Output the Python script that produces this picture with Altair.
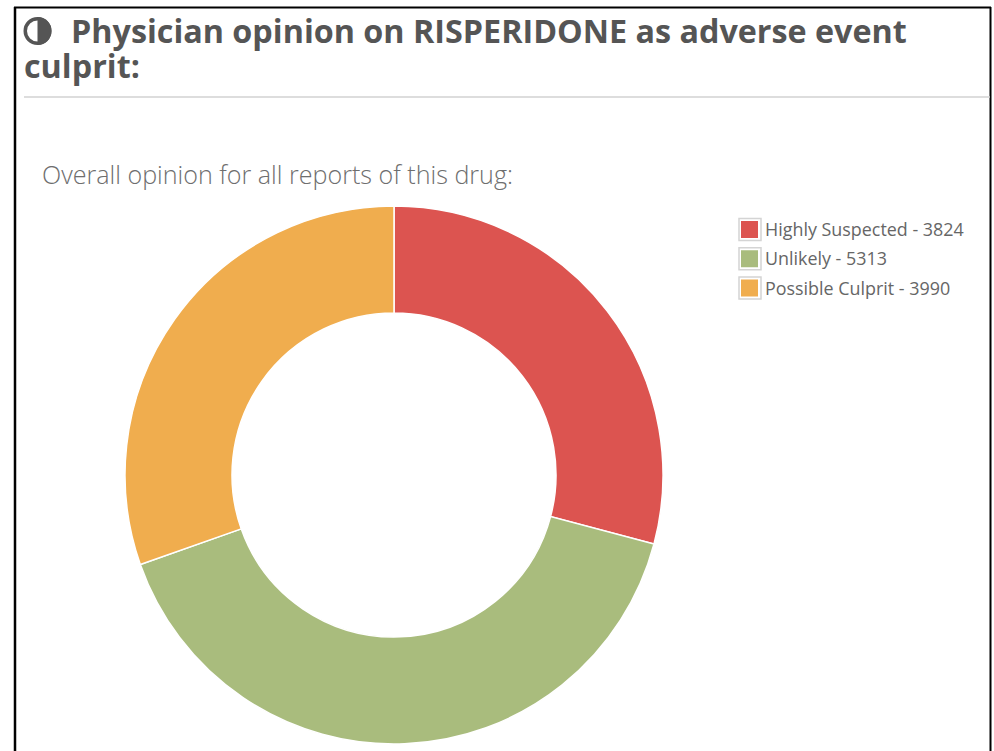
import math

import altair as alt
import pandas as pd

# Physician opinion counts for the drug, in clockwise order from twelve o'clock
categories = ["Highly Suspected", "Unlikely", "Possible Culprit"]
counts = [3824, 5313, 3990]
colors = ["#DC5450", "#A9BC7D", "#F0AD4E"]

title_line_1 = "Physician opinion on RISPERIDONE as adverse event"
title_line_2 = "culprit:"
subtitle = "Overall opinion for all reports of this drug:"

FONT = "Open Sans"
TEXT_DARK = "#555555"
TEXT_SOFT = "#666666"
CX, CY = 394, 475

labels = [f"{c} - {n}" for c, n in zip(categories, counts)]
table = pd.DataFrame({"label": labels, "count": counts, "rank": range(len(counts))})

color_scale = alt.Color(
    "label:N", scale=alt.Scale(domain=labels, range=colors), legend=None
)
# Key rows are placed by a point scale over the labels
row_scale = alt.Y(
    "label:N",
    scale=alt.Scale(type="point", domain=labels, range=[229.5, 288], padding=0),
    axis=None,
)

donut = (
    alt.Chart(table)
    .mark_arc(outerRadius=269, innerRadius=162, stroke="white", strokeWidth=1.5)
    .encode(
        x=alt.value(CX),
        y=alt.value(CY),
        theta=alt.Theta("count:Q", stack=True),
        order=alt.Order("rank:Q"),
        color=color_scale,
    )
)

# Colour key: swatch, thin grey box around it, and label
key_box = (
    alt.Chart(table)
    .mark_square(size=484, filled=False, stroke="#D4D4D4", strokeWidth=1.5, opacity=1)
    .encode(x=alt.value(750), y=row_scale)
)
key_swatch = (
    alt.Chart(table)
    .mark_square(size=289, opacity=1)
    .encode(x=alt.value(749.5), y=row_scale, color=color_scale)
)
key_label = (
    alt.Chart(table)
    .mark_text(
        align="left", baseline="alphabetic", dy=6.7, font=FONT, fontSize=17.9,
        color=TEXT_SOFT,
    )
    .encode(x=alt.value(765), y=row_scale, text="label:N")
)


def text(content, x, y, size, color, weight="normal", font=FONT):
    return alt.Chart().mark_text(
        align="left", baseline="alphabetic", font=font, fontSize=size,
        fontWeight=weight, color=color,
    ).encode(x=alt.value(x), y=alt.value(y), text=alt.value(content))


def hline(x1, x2, y, color, width):
    return alt.Chart().mark_rule(color=color, strokeWidth=width).encode(
        x=alt.value(x1), x2=alt.value(x2), y=alt.value(y)
    )


def vline(x, y1, y2, color, width):
    return alt.Chart().mark_rule(color=color, strokeWidth=width).encode(
        x=alt.value(x), y=alt.value(y1), y2=alt.value(y2)
    )


# Half-filled ring in front of the heading
icon = [
    alt.Chart().mark_arc(outerRadius=14, innerRadius=10.5, theta=0, theta2=2 * math.pi, color=TEXT_DARK)
    .encode(x=alt.value(37.5), y=alt.value(31)),
    alt.Chart().mark_arc(outerRadius=14, innerRadius=0, theta=0, theta2=math.pi, color=TEXT_DARK)
    .encode(x=alt.value(37.5), y=alt.value(31)),
]

chart = alt.layer(
    donut,
    key_box,
    key_swatch,
    key_label,
    vline(15, 7, 751, "#000000", 2.5),
    vline(990.5, 7, 751, "#000000", 2),
    hline(14, 991, 7.5, "#000000", 2),
    hline(24, 990, 97, "#D2D2D2", 1.5),
    *icon,
    text(title_line_1, 71, 43, 32.3, TEXT_DARK, "bold"),
    text(title_line_2, 24, 78, 32.3, TEXT_DARK, "bold"),
    text(subtitle, 42, 184, 25.1, "#6E6E6E", 300),
).properties(
    width=994, height=751, padding=0, autosize="none", background="white"
).configure_view(stroke=None)

chart.save("out.html", embed_options={"renderer": "svg", "actions": False})
